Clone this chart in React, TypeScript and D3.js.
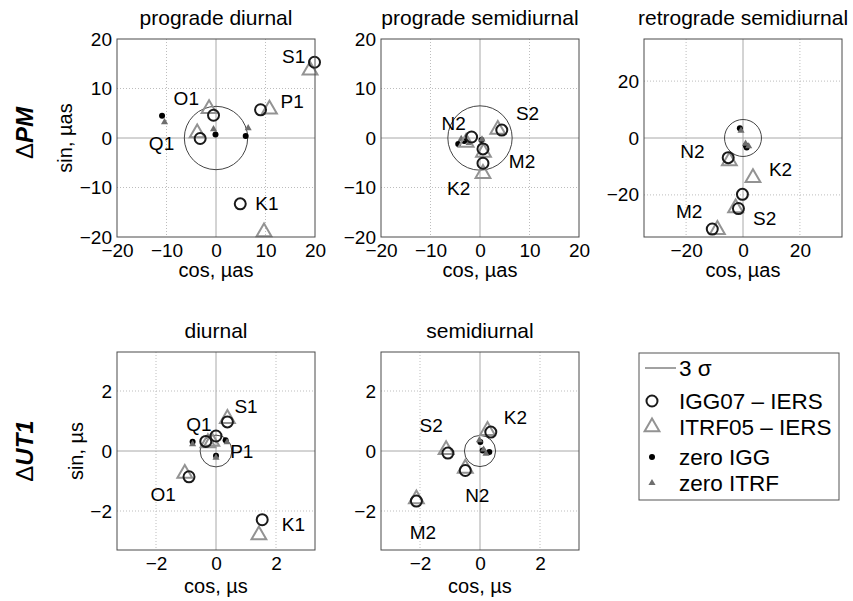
import React, { useEffect, useRef } from "react";
import * as d3 from "d3";

const W = 853;
const H = 601;
const FONT = "'Liberation Sans', Arial, Helvetica, sans-serif";

// ---- values ----
const diurnalTides = ["Q1", "O1", "P1", "K1", "S1"];
const semidiurnalTides = ["N2", "M2", "S2", "K2"];

const pmTicks = [-20, -10, 0, 10, 20];
const pmRetroTicks = [-20, 0, 20];
const ut1Ticks = [-2, 0, 2];

// prograde diurnal, µas  (order = diurnalTides)
const pdIgg = [[-3.2, -0.1], [-0.5, 4.6], [9.0, 5.7], [4.9, -13.3], [19.9, 15.3]];
const pdItrf = [[-3.8, 1.0], [-1.4, 5.9], [10.8, 5.8], [9.7, -19.0], [19.0, 13.7]];
const pdZeroIgg = [[-10.9, 4.5], [-0.1, 0.7], [6.0, 0.4]];
const pdZeroItrf = [[-10.4, 3.2], [-0.5, 1.8], [6.5, 2.0]];
const pdLabelAt = [[-11, -1.0], [-6, 8.1], [15.4, 7.4], [10.3, -13.1], [15.7, 16.5]];
const pdSigma = 6.4;

// prograde semidiurnal, µas  (order = semidiurnalTides)
const psIgg = [[-1.7, 0.2], [0.6, -2.2], [4.4, 1.6], [0.6, -5.1]];
const psItrf = [[-2.8, -0.9], [0.7, -2.9], [3.6, 1.7], [0.6, -7.2]];
const psZeroIgg = [[-4.4, -1.2], [-3.2, -0.6], [0.3, -0.4]];
const psZeroItrf = [[-3.8, -0.2], [-2.2, -1.0], [0.4, -0.3]];
const psLabelAt = [[-5.3, 3.0], [8.5, -4.7], [9.6, 5.0], [-4.3, -10.1]];
const psSigma = 6.5;

// retrograde semidiurnal, µas
const rsIgg = [[-5.2, -6.9], [-10.8, -32.0], [-1.6, -24.8], [-0.2, -19.8]];
const rsItrf = [[-4.8, -8.1], [-9.0, -32.2], [-2.6, -24.6], [3.5, -14.0]];
const rsZeroIgg = [[-1.1, 3.4], [1.0, -2.6], [1.3, -3.3]];
const rsZeroItrf = [[-0.7, 2.6], [2.0, -2.9], [0.9, -2.0]];
const rsLabelAt = [[-17.8, -4.7], [-18.9, -25.6], [7.6, -28.1], [13.2, -10.8]];
const rsSigma = 6.5;

// UT1 diurnal, µs
const udIgg = [[-0.34, 0.32], [-0.9, -0.86], [0.0, 0.5], [1.54, -2.29], [0.38, 0.97]];
const udItrf = [[-0.27, 0.27], [-1.04, -0.75], [-0.14, 0.32], [1.43, -2.8], [0.38, 1.08]];
const udZeroIgg = [[-0.78, 0.31], [0.32, 0.36], [0.0, -0.16]];
const udZeroItrf = [[-0.78, 0.23], [0.37, 0.29], [0.0, -0.22]];
const udLabelAt = [[-0.57, 0.9], [-1.76, -1.45], [0.86, -0.01], [2.58, -2.45], [1.0, 1.5]];
const udSigma = 0.53;

// UT1 semidiurnal, µs
const usIgg = [[-0.49, -0.65], [-2.12, -1.67], [-1.07, -0.07], [0.36, 0.63]];
const usItrf = [[-0.49, -0.58], [-2.12, -1.6], [-1.13, 0.04], [0.25, 0.68]];
const usZeroIgg = [[0.01, 0.3], [0.09, 0.02], [0.31, -0.03]];
const usZeroItrf = [[-0.02, 0.36], [0.2, -0.09], [0.12, 0.05]];
const usLabelAt = [[-0.09, -1.46], [-1.9, -2.72], [-1.63, 0.85], [1.18, 1.12]];
const usSigma = 0.52;

const legendLabels = ["3 σ", "IGG07 – IERS", "ITRF05 – IERS", "zero IGG", "zero ITRF"];

const SIZE = 198;
const panels = [
  { title: "prograde diurnal", tides: diurnalTides, igg: pdIgg, itrf: pdItrf, zIgg: pdZeroIgg, zItrf: pdZeroItrf, labelAt: pdLabelAt, sigma: pdSigma, lim: 20, ticks: pmTicks, xLabel: "cos, µas", yLabel: "sin, µas", left: 117, top: 39, yLabelX: 65, xLabelDy: 40 },
  { title: "prograde semidiurnal", tides: semidiurnalTides, igg: psIgg, itrf: psItrf, zIgg: psZeroIgg, zItrf: psZeroItrf, labelAt: psLabelAt, sigma: psSigma, lim: 20, ticks: pmTicks, xLabel: "cos, µas", yLabel: null, left: 381, top: 39, yLabelX: 0, xLabelDy: 40 },
  { title: "retrograde semidiurnal", tides: semidiurnalTides, igg: rsIgg, itrf: rsItrf, zIgg: rsZeroIgg, zItrf: rsZeroItrf, labelAt: rsLabelAt, sigma: rsSigma, lim: 34.8, ticks: pmRetroTicks, xLabel: "cos, µas", yLabel: null, left: 644, top: 39, yLabelX: 0, xLabelDy: 40 },
  { title: "diurnal", tides: diurnalTides, igg: udIgg, itrf: udItrf, zIgg: udZeroIgg, zItrf: udZeroItrf, labelAt: udLabelAt, sigma: udSigma, lim: 3.3, ticks: ut1Ticks, xLabel: "cos, µs", yLabel: "sin, µs", left: 117, top: 352, yLabelX: 76, xLabelDy: 43 },
  { title: "semidiurnal", tides: semidiurnalTides, igg: usIgg, itrf: usItrf, zIgg: usZeroIgg, zItrf: usZeroItrf, labelAt: usLabelAt, sigma: usSigma, lim: 3.3, ticks: ut1Ticks, xLabel: "cos, µs", yLabel: null, left: 381, top: 352, yLabelX: 0, xLabelDy: 43 },
];

const CIRCLE_COLOR = "#1a1a1a";
const TRI_COLOR = "#939393";
const ZERO_TRI_COLOR = "#6e6e6e";

const bigTri = d3.symbol().type(d3.symbolTriangle).size(95);
const smallTri = d3.symbol().type(d3.symbolTriangle).size(22);
const tickFmt = d3.format("d");

const App = () => {
  const svgRef = useRef(null);

  useEffect(() => {
    const svg = d3.select(svgRef.current);
    svg.selectAll("*").remove();

    svg.append("rect").attr("width", W).attr("height", H).attr("fill", "#fff");

    panels.forEach((p) => {
      const g = svg.append("g").attr("transform", `translate(${p.left},${p.top})`);
      const x = d3.scaleLinear().domain([-p.lim, p.lim]).range([0, SIZE]);
      const y = d3.scaleLinear().domain([-p.lim, p.lim]).range([SIZE, 0]);

      // dotted grid
      const inner = p.ticks.filter((t) => t !== 0 && Math.abs(t) < p.lim - 1e-6);
      g.selectAll(".gx").data(inner).enter().append("line")
        .attr("x1", (d) => x(d)).attr("x2", (d) => x(d))
        .attr("y1", 0).attr("y2", SIZE)
        .attr("stroke", "#bdbdbd").attr("stroke-dasharray", "1,2");
      g.selectAll(".gy").data(inner).enter().append("line")
        .attr("y1", (d) => y(d)).attr("y2", (d) => y(d))
        .attr("x1", 0).attr("x2", SIZE)
        .attr("stroke", "#bdbdbd").attr("stroke-dasharray", "1,2");

      // zero lines
      g.append("line").attr("x1", x(0)).attr("x2", x(0)).attr("y1", 0).attr("y2", SIZE)
        .attr("stroke", "#a8a8a8").attr("stroke-width", 1);
      g.append("line").attr("y1", y(0)).attr("y2", y(0)).attr("x1", 0).attr("x2", SIZE)
        .attr("stroke", "#a8a8a8").attr("stroke-width", 1);

      // 3 sigma circle
      g.append("circle").attr("cx", x(0)).attr("cy", y(0))
        .attr("r", x(p.sigma) - x(0))
        .attr("fill", "none").attr("stroke", "#444").attr("stroke-width", 1);

      // zero IGG / zero ITRF
      g.selectAll(".zi").data(p.zIgg).enter().append("circle")
        .attr("cx", (d) => x(d[0])).attr("cy", (d) => y(d[1]))
        .attr("r", 3).attr("fill", "#000");
      g.selectAll(".zt").data(p.zItrf).enter().append("path")
        .attr("d", smallTri)
        .attr("transform", (d) => `translate(${x(d[0])},${y(d[1])})`)
        .attr("fill", ZERO_TRI_COLOR);

      // ITRF05 - IERS
      g.selectAll(".tr").data(p.itrf).enter().append("path")
        .attr("d", bigTri)
        .attr("transform", (d) => `translate(${x(d[0])},${y(d[1])})`)
        .attr("fill", "none").attr("stroke", TRI_COLOR).attr("stroke-width", 2);

      // IGG07 - IERS
      g.selectAll(".ci").data(p.igg).enter().append("circle")
        .attr("cx", (d) => x(d[0])).attr("cy", (d) => y(d[1]))
        .attr("r", 5.5)
        .attr("fill", "none").attr("stroke", CIRCLE_COLOR).attr("stroke-width", 2);

      // tide labels
      g.selectAll(".lb").data(p.tides).enter().append("text")
        .attr("x", (d, i) => x(p.labelAt[i][0]))
        .attr("y", (d, i) => y(p.labelAt[i][1]))
        .attr("dy", "0.36em")
        .attr("text-anchor", "middle")
        .style("font-family", FONT).style("font-size", "19px").attr("fill", "#000")
        .text((d) => d);

      // box
      g.append("rect").attr("width", SIZE).attr("height", SIZE)
        .attr("fill", "none").attr("stroke", "#4a4a4a").attr("stroke-width", 1);

      // axes
      const xa = g.append("g").attr("transform", `translate(0,${SIZE})`)
        .call(d3.axisBottom(x).tickValues(p.ticks).tickFormat(tickFmt).tickSize(0).tickPadding(7));
      const ya = g.append("g")
        .call(d3.axisLeft(y).tickValues(p.ticks).tickFormat(tickFmt).tickSize(0).tickPadding(5));
      [xa, ya].forEach((a) => {
        a.select(".domain").remove();
        a.selectAll("text").style("font-family", FONT).style("font-size", "19px").attr("fill", "#000");
      });

      // title and axis labels
      g.append("text").attr("x", SIZE / 2).attr("y", -14)
        .attr("text-anchor", "middle")
        .style("font-family", FONT).style("font-size", "21px")
        .text(p.title);
      g.append("text").attr("x", SIZE / 2).attr("y", SIZE + p.xLabelDy)
        .attr("text-anchor", "middle")
        .style("font-family", FONT).style("font-size", "20px")
        .text(p.xLabel);
      if (p.yLabel) {
        svg.append("text")
          .attr("transform", `translate(${p.yLabelX},${p.top + SIZE / 2}) rotate(-90)`)
          .attr("text-anchor", "middle").attr("dy", "0.35em")
          .style("font-family", FONT).style("font-size", "20px")
          .text(p.yLabel);
      }
    });

    // row labels
    [["PM", 39 + SIZE / 2 - 5], ["UT1", 352 + SIZE / 2]].forEach(([name, cy]) => {
      const t = svg.append("text")
        .attr("transform", `translate(25,${cy}) rotate(-90)`)
        .attr("text-anchor", "middle").attr("dy", "0.35em")
        .style("font-family", FONT).style("font-size", "24px");
      t.append("tspan").text("Δ");
      t.append("tspan").style("font-weight", "bold").style("font-style", "italic").text(name);
    });

    // legend
    const lg = svg.append("g").attr("transform", "translate(639,353)");
    lg.append("rect").attr("width", 200).attr("height", 147)
      .attr("fill", "#fff").attr("stroke", "#555").attr("stroke-width", 1);
    const rowY = [15, 48, 74, 104, 130];
    lg.append("line").attr("x1", 6).attr("x2", 37).attr("y1", rowY[0]).attr("y2", rowY[0])
      .attr("stroke", "#444").attr("stroke-width", 1);
    lg.append("circle").attr("cx", 13).attr("cy", rowY[1]).attr("r", 5.5)
      .attr("fill", "none").attr("stroke", CIRCLE_COLOR).attr("stroke-width", 2);
    lg.append("path").attr("d", bigTri).attr("transform", `translate(13,${rowY[2]})`)
      .attr("fill", "none").attr("stroke", TRI_COLOR).attr("stroke-width", 2);
    lg.append("circle").attr("cx", 13).attr("cy", rowY[3]).attr("r", 3).attr("fill", "#000");
    lg.append("path").attr("d", smallTri).attr("transform", `translate(13,${rowY[4]})`)
      .attr("fill", ZERO_TRI_COLOR);
    lg.selectAll(".lt").data(legendLabels).enter().append("text")
      .attr("x", 40).attr("y", (d, i) => rowY[i]).attr("dy", "0.36em")
      .style("font-family", FONT).style("font-size", "22.5px")
      .text((d) => d);
  }, []);

  return (
    <svg ref={svgRef} width={W} height={H}
      style={{ position: "absolute", left: 0, top: 0, display: "block" }} />
  );
};

export default App;
